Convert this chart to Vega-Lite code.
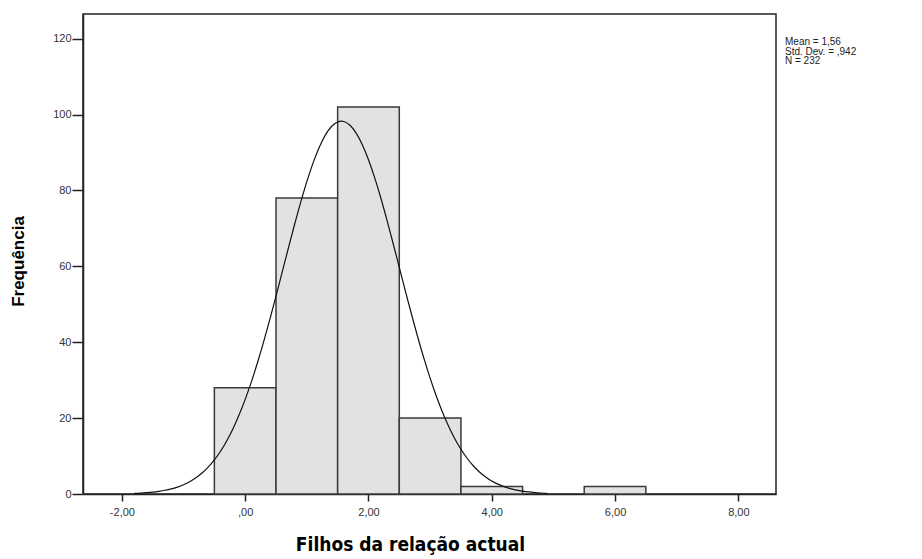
{
  "$schema": "https://vega.github.io/schema/vega-lite/v6.json",
  "width": 693,
  "height": 480,
  "autosize": {"type": "none"},
  "padding": {"left": 83, "top": 14, "right": 146, "bottom": 65},
  "background": "white",
  "config": {
    "view": {"stroke": "#222", "strokeWidth": 1.5},
    "axis": {"grid": false, "domainColor": "#222", "domainWidth": 1.5, "tickColor": "#222", "tickWidth": 1.5, "labelColor": "#333", "labelFont": "Liberation Sans", "labelFontSize": 11, "titleColor": "#000"}
  },
  "title": {
    "text": ["Mean = 1,56", "Std. Dev. = ,942", "N = 232"],
    "anchor": "start",
    "frame": "group",
    "orient": "top",
    "offset": 0,
    "dx": 702,
    "dy": 52,
    "font": "Liberation Sans",
    "fontSize": 10,
    "fontWeight": "normal",
    "lineHeight": 9.5,
    "color": "#222"
  },
  "datasets": {
    "bins": [
      {"start": -0.5, "end": 0.5, "count": 28},
      {"start": 0.5, "end": 1.5, "count": 78},
      {"start": 1.5, "end": 2.5, "count": 102},
      {"start": 2.5, "end": 3.5, "count": 20},
      {"start": 3.5, "end": 4.5, "count": 2},
      {"start": 5.5, "end": 6.5, "count": 2}
    ],
    "curve": [
      {"x": -1.8, "y": 0.170}, {"x": -1.7, "y": 0.246}, {"x": -1.6, "y": 0.354}, {"x": -1.5, "y": 0.502},
      {"x": -1.4, "y": 0.705}, {"x": -1.3, "y": 0.979}, {"x": -1.2, "y": 1.344}, {"x": -1.1, "y": 1.824},
      {"x": -1.0, "y": 2.447}, {"x": -0.9, "y": 3.247}, {"x": -0.8, "y": 4.259}, {"x": -0.7, "y": 5.526},
      {"x": -0.6, "y": 7.088}, {"x": -0.5, "y": 8.993}, {"x": -0.4, "y": 11.275}, {"x": -0.3, "y": 13.986},
      {"x": -0.2, "y": 17.155}, {"x": -0.1, "y": 20.798}, {"x": 0.0, "y": 24.934}, {"x": 0.1, "y": 29.560},
      {"x": 0.2, "y": 34.651}, {"x": 0.3, "y": 40.161}, {"x": 0.4, "y": 46.031}, {"x": 0.5, "y": 52.165},
      {"x": 0.6, "y": 58.453}, {"x": 0.7, "y": 64.763}, {"x": 0.8, "y": 70.953}, {"x": 0.9, "y": 76.867},
      {"x": 1.0, "y": 82.336}, {"x": 1.1, "y": 87.209}, {"x": 1.2, "y": 91.333}, {"x": 1.3, "y": 94.577},
      {"x": 1.4, "y": 96.843}, {"x": 1.5, "y": 98.051}, {"x": 1.56, "y": 98.25}, {"x": 1.6, "y": 98.162},
      {"x": 1.7, "y": 97.171}, {"x": 1.8, "y": 95.112}, {"x": 1.9, "y": 92.054}, {"x": 2.0, "y": 88.096},
      {"x": 2.1, "y": 83.364}, {"x": 2.2, "y": 78.000}, {"x": 2.3, "y": 72.166}, {"x": 2.4, "y": 66.020},
      {"x": 2.5, "y": 59.718}, {"x": 2.6, "y": 53.416}, {"x": 2.7, "y": 47.240}, {"x": 2.8, "y": 41.309},
      {"x": 2.9, "y": 35.723}, {"x": 3.0, "y": 30.543}, {"x": 3.1, "y": 25.820}, {"x": 3.2, "y": 21.586},
      {"x": 3.3, "y": 17.845}, {"x": 3.4, "y": 14.581}, {"x": 3.5, "y": 11.783}, {"x": 3.6, "y": 9.419},
      {"x": 3.7, "y": 7.439}, {"x": 3.8, "y": 5.813}, {"x": 3.9, "y": 4.491}, {"x": 4.0, "y": 3.431},
      {"x": 4.1, "y": 2.591}, {"x": 4.2, "y": 1.936}, {"x": 4.3, "y": 1.430}, {"x": 4.4, "y": 1.044},
      {"x": 4.5, "y": 0.754}, {"x": 4.6, "y": 0.538}, {"x": 4.7, "y": 0.380}, {"x": 4.8, "y": 0.265},
      {"x": 4.9, "y": 0.183}
    ]
  },
  "layer": [
    {
      "data": {"name": "bins"},
      "mark": {"type": "bar", "orient": "vertical", "fill": "#e2e2e2", "stroke": "#3a3a3a", "strokeWidth": 1.5, "cornerRadius": 0},
      "encoding": {
        "x": {
          "field": "start", "type": "quantitative",
          "scale": {"domain": [-2.55, 8.53], "nice": false, "zero": false},
          "axis": {
            "values": [-2, 0, 2, 4, 6, 8],
            "labelExpr": "datum.value == 0 ? ',00' : replace(replace(format(datum.value, '.2f'), '.', ','), '\u2212', '-')",
            "tickSize": 7,
            "labelPadding": 5,
            "title": "Filhos da relação actual",
            "titleFont": "DejaVu Sans Condensed",
            "titleFontWeight": "bold",
            "titleFontSize": 19,
            "titleX": 327,
            "titleY": 50,
            "titleAlign": "center",
            "titleBaseline": "middle"
          }
        },
        "x2": {"field": "end"},
        "y": {
          "field": "count", "type": "quantitative",
          "scale": {"domain": [0, 126.5], "nice": false},
          "axis": {
            "values": [0, 20, 40, 60, 80, 100, 120],
            "tickSize": 11,
            "labelPadding": 1,
            "title": "Frequência",
            "titleFont": "Liberation Sans",
            "titleFontWeight": "bold",
            "titleFontSize": 17,
            "titleAngle": -90,
            "titleX": -65,
            "titleY": 247,
            "titleAlign": "center",
            "titleBaseline": "middle"
          }
        },
        "y2": {"datum": 0}
      }
    },
    {
      "data": {"name": "curve"},
      "mark": {"type": "line", "color": "#111", "strokeWidth": 1.2, "interpolate": "monotone"},
      "encoding": {
        "x": {"field": "x", "type": "quantitative"},
        "y": {"field": "y", "type": "quantitative"}
      }
    }
  ]
}
